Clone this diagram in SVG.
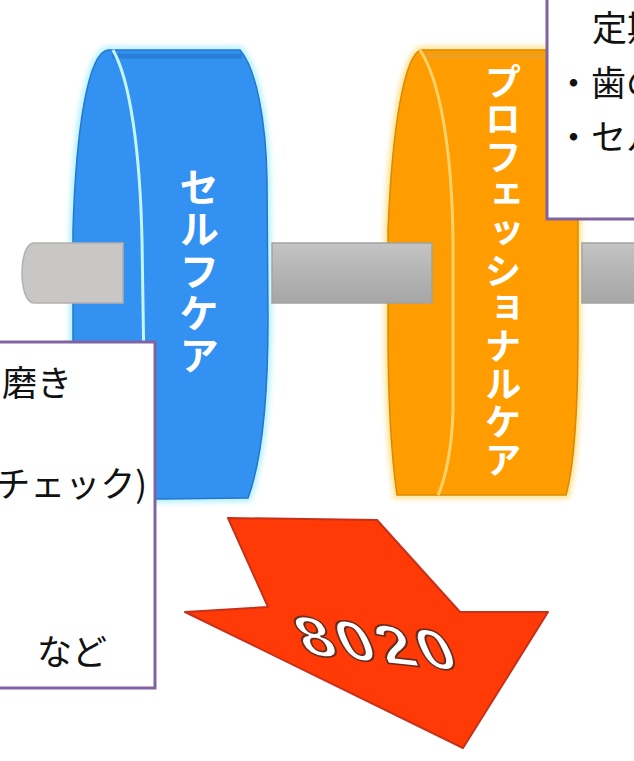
<svg xmlns="http://www.w3.org/2000/svg" width="634" height="761" viewBox="0 0 634 761">
  <defs>
    <style>
      .note { fill: #ffffff; stroke: #8064a2; stroke-width: 3; }
      .ntxt { font-family: "Noto Sans CJK JP", "Noto Sans", sans-serif; font-size: 35px; fill: #111111; }
      .vtxt { font-family: "Noto Sans CJK JP", "Noto Sans", sans-serif; fill: #ffffff; writing-mode: vertical-rl; font-weight: 700; }
    </style>
    <linearGradient id="barShade" x1="0" y1="0" x2="0" y2="1">
      <stop offset="0" stop-color="#c4c4c4"/>
      <stop offset="0.5" stop-color="#b4b4b4"/>
      <stop offset="1" stop-color="#a6a6a6"/>
    </linearGradient>
    <filter id="glow" x="-10%" y="-10%" width="120%" height="120%">
      <feGaussianBlur stdDeviation="2.5"/>
    </filter>
  </defs>

  <rect width="634" height="761" fill="#ffffff"/>

  <!-- blue plate: self care -->
  <g id="plate-self">
    <path d="M73,230 C76,130 88,52 108,50 L240,50 C256,68 266,120 267,180 L268,320 C268,400 262,460 248,498 L73,500 Z"
          fill="none" stroke="#b8f2ff" stroke-width="8" filter="url(#glow)"/>
    <path d="M73,230 C76,130 88,52 108,50 L240,50 C256,68 266,120 267,180 L268,320 C268,400 262,460 248,498 L73,500 Z"
          fill="#3391f2" stroke="#2477cc" stroke-width="1.5"/>
    <path d="M112,56 L242,56" stroke="#2a7ed6" stroke-width="5" fill="none"/>
    <path d="M113,50 C130,80 140,150 142,240 L146,500" fill="none" stroke="#c4f6ff" stroke-width="3"/>
    <text class="vtxt" x="199" y="167" font-size="40" letter-spacing="2">セルフケア</text>
  </g>

  <!-- orange plate: professional care -->
  <g id="plate-pro">
    <path d="M388,230 C392,130 404,55 421,50 L570,50 C576,80 578,150 578,220 L578,330 C578,420 573,470 566,495 L397,495 C392,460 388,400 388,330 Z"
          fill="none" stroke="#ffe49a" stroke-width="8" filter="url(#glow)"/>
    <path d="M388,230 C392,130 404,55 421,50 L570,50 C576,80 578,150 578,220 L578,330 C578,420 573,470 566,495 L397,495 C392,460 388,400 388,330 Z"
          fill="#ff9c00" stroke="#d98a00" stroke-width="1.5"/>
    <path d="M424,56 L570,56" stroke="#f0a020" stroke-width="5" fill="none"/>
    <path d="M420,50 C440,80 452,150 453,240 L453,410 C452,450 445,480 438,495" fill="none" stroke="#ffd36a" stroke-width="3"/>
    <text class="vtxt" x="503" y="63" font-size="37" letter-spacing="0.8">プロフェッショナルケア</text>
  </g>

  <!-- bar segments -->
  <g id="bar">
    <path d="M123,243 L34,243 C18,243 18,303 34,303 L123,303 Z" fill="#c9c6c6" stroke="#b4b0b0" stroke-width="1.5"/>
    <rect x="272" y="243" width="160" height="60" fill="url(#barShade)" stroke="#a2a2a2" stroke-width="1.5"/>
    <rect x="582" y="243" width="60" height="60" fill="url(#barShade)" stroke="#a2a2a2" stroke-width="1.5"/>
  </g>

  <!-- 8020 arrow -->
  <g id="arrow-8020">
    <polygon points="228,518 377,520 460,612 548,612 463,748 185,612 268,607"
             fill="#ff3a06" stroke="#c8301a" stroke-width="2" stroke-linejoin="round"/>
    <text x="0" y="0" font-family="Liberation Sans, Arial, sans-serif" font-weight="bold" font-size="60"
          fill="#ffffff" stroke="#6b2b1e" stroke-width="1.8" text-anchor="middle" letter-spacing="4"
          transform="translate(386,663) rotate(6) skewX(30) scale(1.08,0.9)">8020</text>
  </g>

  <!-- note boxes -->
  <g id="note-self">
    <rect class="note" x="-10" y="342" width="165" height="346"/>
    <text class="ntxt" x="72" y="396" text-anchor="end">磨き</text>
    <text class="ntxt" x="147" y="497" text-anchor="end">チェック)</text>
    <text class="ntxt" x="37" y="665">など</text>
  </g>

  <g id="note-pro">
    <rect class="note" x="547" y="-10" width="100" height="229"/>
    <text class="ntxt" x="592" y="41">定期</text>
    <text class="ntxt" x="556" y="96">・歯の</text>
    <text class="ntxt" x="556" y="150">・セル</text>
  </g>
</svg>
